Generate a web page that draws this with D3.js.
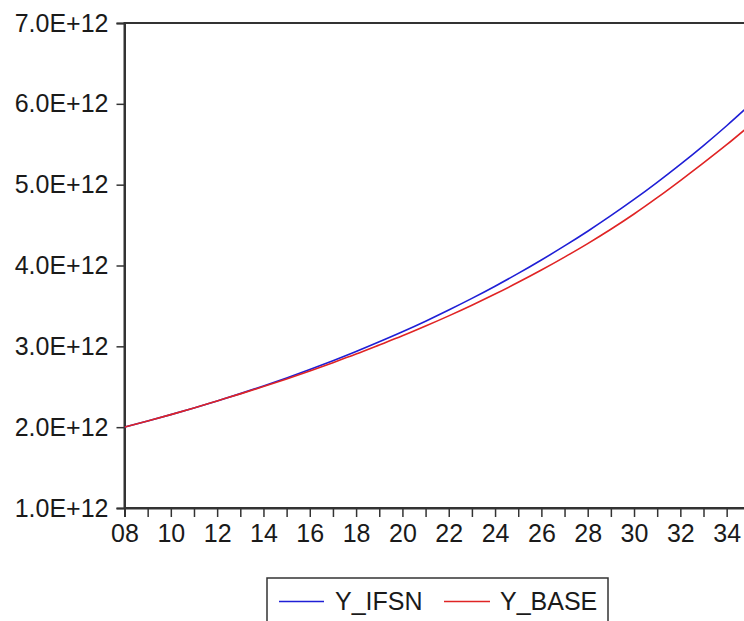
<!DOCTYPE html>
<html>
<head>
<meta charset="utf-8">
<script src="https://cdn.jsdelivr.net/npm/d3@7"></script>
<style>
  html, body { margin: 0; padding: 0; background: #fff; }
  svg { display: block; }
  text { font-family: "Liberation Sans", Arial, sans-serif; fill: #1a1a1a; }
</style>
</head>
<body>
<svg id="chart" width="744" height="621"></svg>
<script>
const years = [2008,2009,2010,2011,2012,2013,2014,2015,2016,2017,2018,2019,2020,2021,
               2022,2023,2024,2025,2026,2027,2028,2029,2030,2031,2032,2033,2034,2035];
const yIfsn = [2.000,2.076,2.155,2.238,2.325,2.415,2.510,2.609,2.713,2.822,2.936,3.056,3.180,3.311,
               3.449,3.593,3.744,3.902,4.068,4.242,4.424,4.616,4.817,5.029,5.251,5.484,5.729,5.987].map(v => v * 1e12);
const yBase = [2.000,2.076,2.155,2.238,2.325,2.412,2.502,2.597,2.695,2.798,2.904,3.016,3.130,3.251,
               3.377,3.509,3.647,3.792,3.944,4.104,4.271,4.448,4.637,4.839,5.051,5.269,5.494,5.732].map(v => v * 1e12);
const yTicks = [1e12,2e12,3e12,4e12,5e12,6e12,7e12];
const yTickLabels = ["1.0E+12","2.0E+12","3.0E+12","4.0E+12","5.0E+12","6.0E+12","7.0E+12"];
const xLabelYears = [2008,2010,2012,2014,2016,2018,2020,2022,2024,2026,2028,2030,2032,2034];
const seriesNames = ["Y_IFSN","Y_BASE"];
const seriesColors = ["#1f1fd6","#e02424"];

(function () {
const svg = d3.select("#chart");
const mLeft = 124.5, mTop = 23, mBottom = 508;
const x = d3.scaleLinear().domain([2008, 2035]).range([mLeft, mLeft + 27 * 23.16]);
const y = d3.scaleLinear().domain([1e12, 7e12]).range([mBottom, mTop]);

const axisColor = "#333";

// frame
svg.append("rect")
  .attr("x", x(2008)).attr("y", y(7e12))
  .attr("width", x(2035) - x(2008)).attr("height", y(1e12) - y(7e12))
  .attr("fill", "none").attr("stroke", axisColor).attr("stroke-width", 2);

// y axis
const yAxis = d3.axisLeft(y).tickValues(yTicks)
  .tickFormat((d, i) => yTickLabels[i]).tickSize(8).tickPadding(8);
const gy = svg.append("g").attr("transform", `translate(${mLeft},0)`).call(yAxis);
gy.select(".domain").attr("stroke", axisColor).attr("stroke-width", 2);
gy.selectAll(".tick line").attr("stroke", axisColor).attr("stroke-width", 1.5);
gy.selectAll(".tick text").attr("font-size", 25)
  .style("font-family", "Liberation Sans, Arial, sans-serif").attr("fill", "#1a1a1a");

// x axis
const xAxis = d3.axisBottom(x).tickValues(years.slice(0, 27))
  .tickFormat(d => xLabelYears.includes(d) ? String(d).slice(2) : "")
  .tickSize(9).tickPadding(7);
const gx = svg.append("g").attr("transform", `translate(0,${mBottom})`).call(xAxis);
gx.select(".domain").attr("stroke", axisColor).attr("stroke-width", 2);
gx.selectAll(".tick line").attr("stroke", axisColor).attr("stroke-width", 1.5);
gx.selectAll(".tick text").attr("font-size", 25)
  .style("font-family", "Liberation Sans, Arial, sans-serif").attr("fill", "#1a1a1a");

// lines
const line = d3.line().x((d, i) => x(years[i])).y(d => y(d)).curve(d3.curveMonotoneX);
svg.append("clipPath").attr("id", "clip").append("rect")
  .attr("x", mLeft).attr("y", mTop).attr("width", 700).attr("height", mBottom - mTop);
[yIfsn, yBase].forEach((s, k) => {
  svg.append("path").datum(s).attr("d", line)
    .attr("fill", "none").attr("stroke", seriesColors[k]).attr("stroke-width", 1.6)
    .attr("clip-path", "url(#clip)");
});

// legend
const lg = svg.append("g");
lg.append("rect").attr("x", 267).attr("y", 578).attr("width", 341).attr("height", 60)
  .attr("fill", "#fff").attr("stroke", axisColor).attr("stroke-width", 1.5);
const legX = [[279, 324, 335], [444, 490, 500]];
seriesNames.forEach((n, k) => {
  lg.append("line").attr("x1", legX[k][0]).attr("x2", legX[k][1])
    .attr("y1", 601.5).attr("y2", 601.5)
    .attr("stroke", seriesColors[k]).attr("stroke-width", 1.6);
  lg.append("text").attr("x", legX[k][2]).attr("y", 610).attr("font-size", 25).text(n);
});
})();
</script>
</body>
</html>
